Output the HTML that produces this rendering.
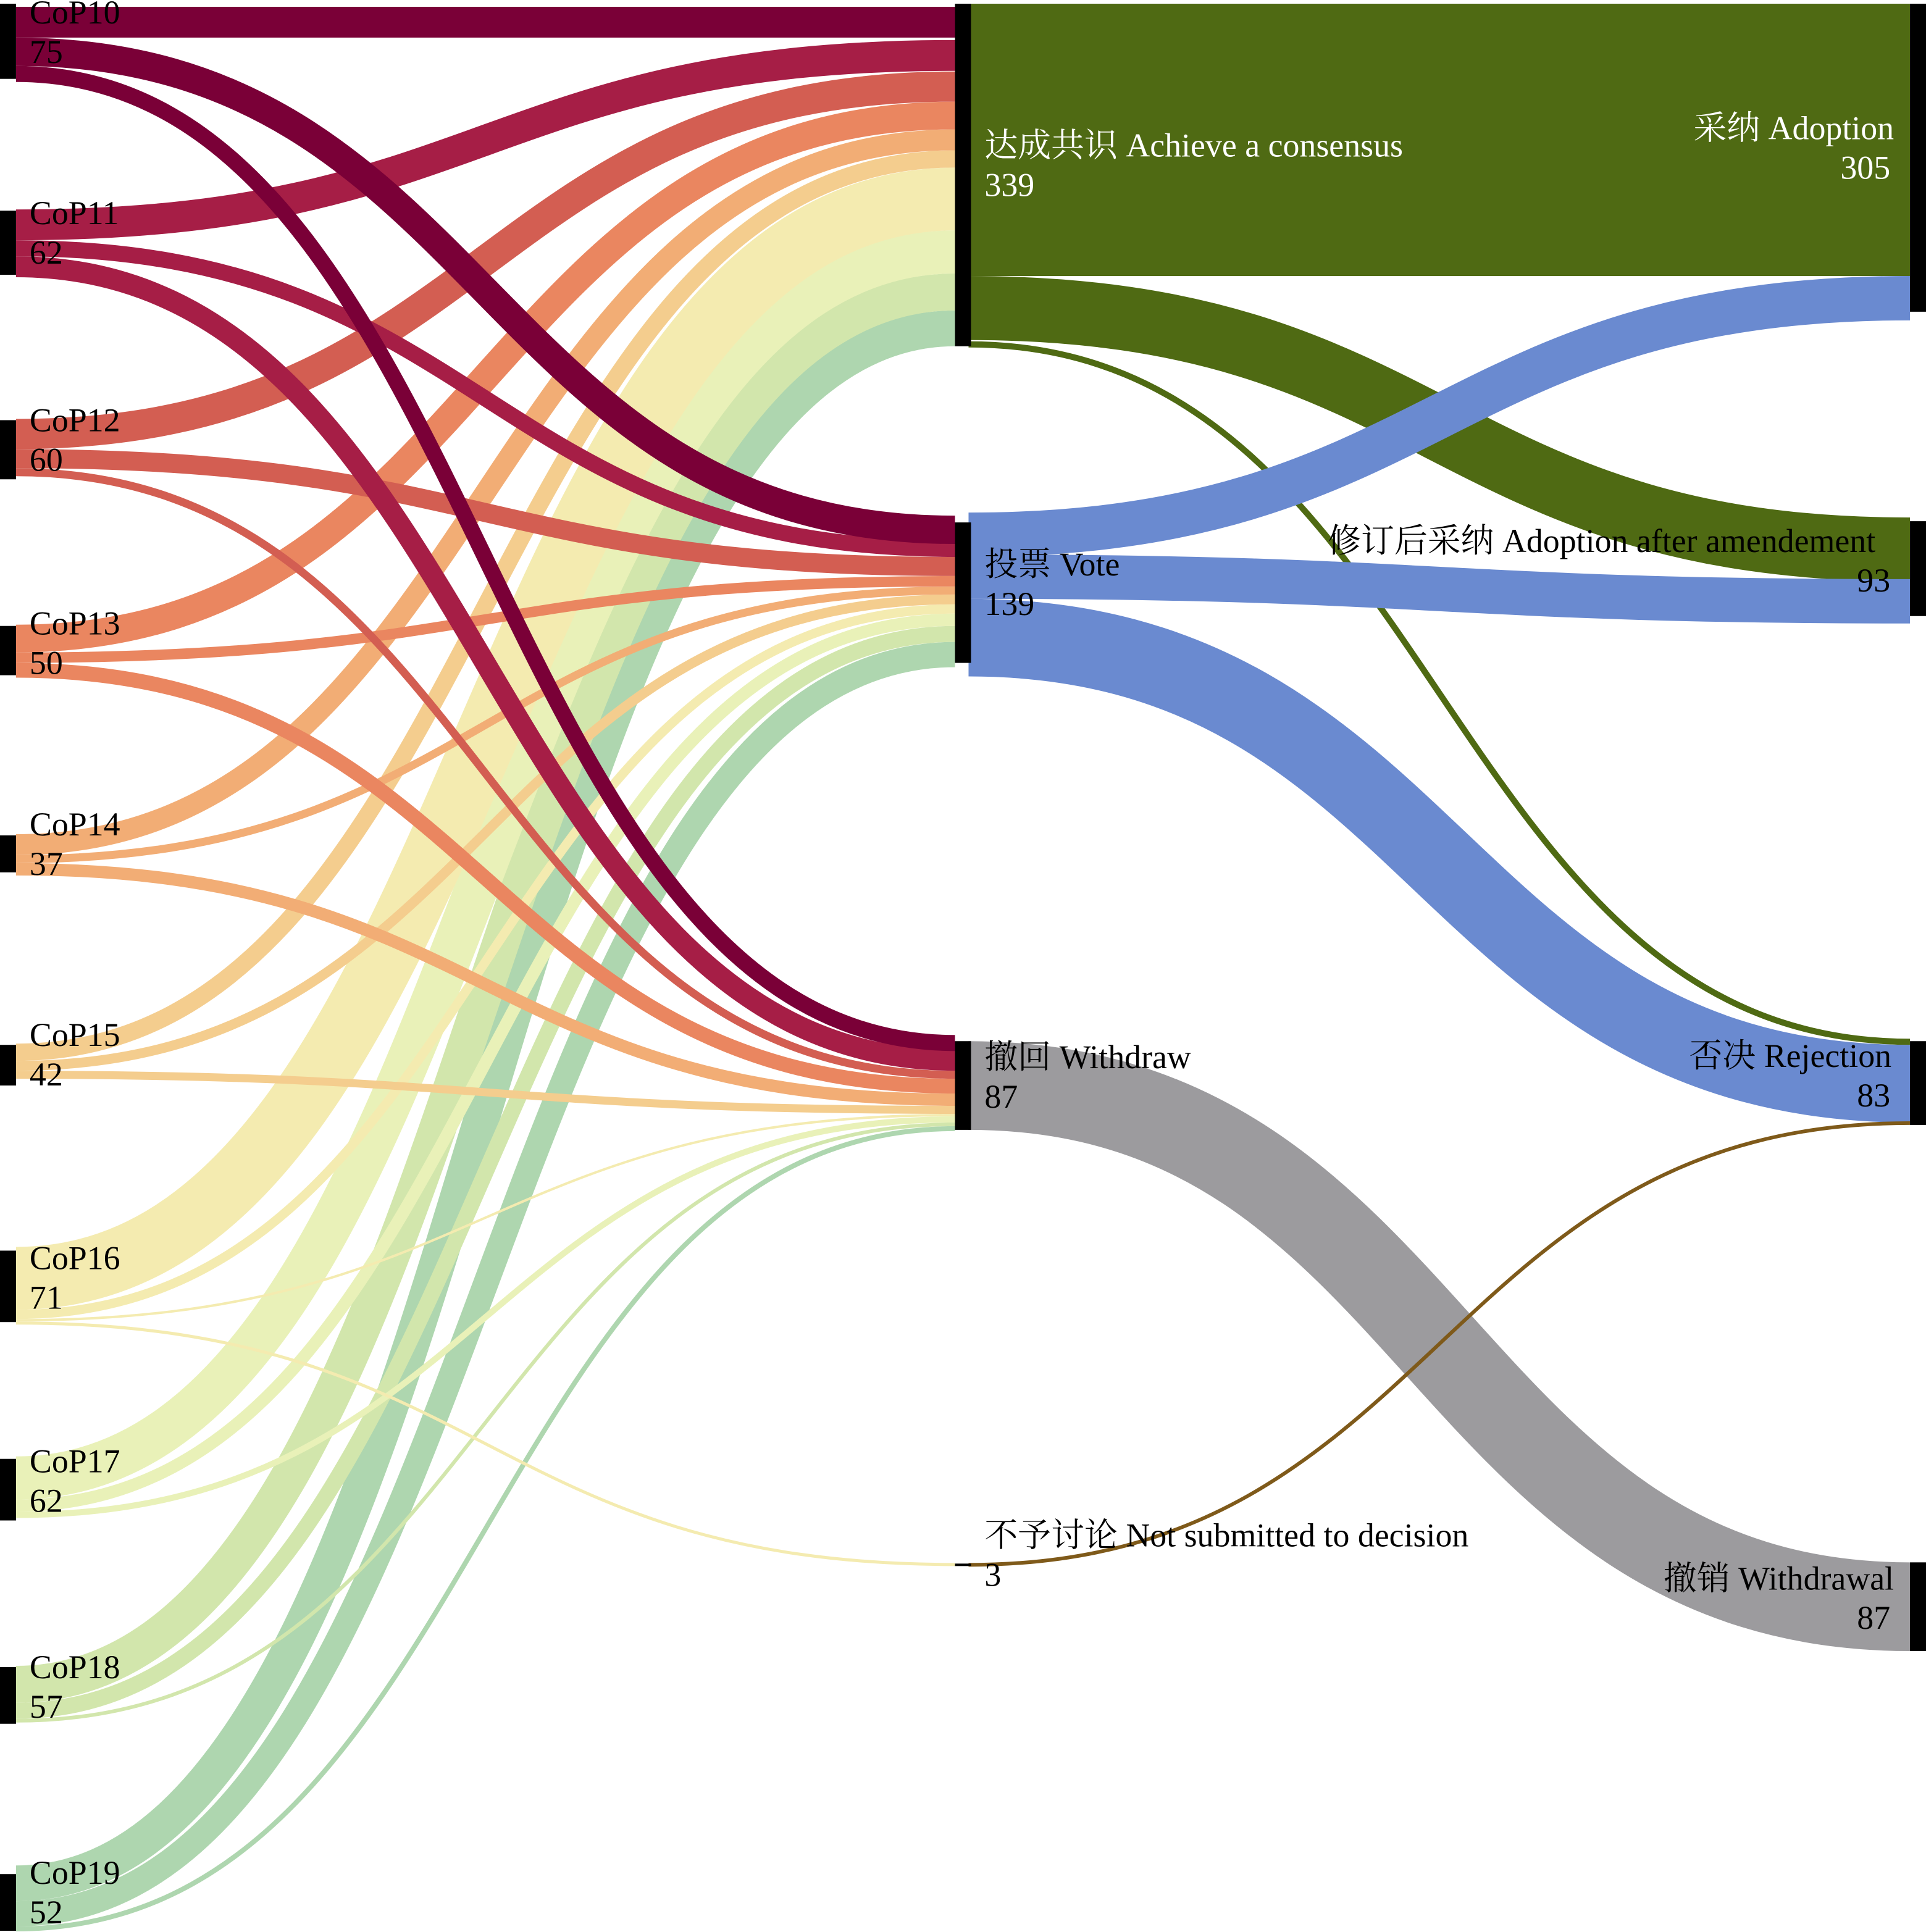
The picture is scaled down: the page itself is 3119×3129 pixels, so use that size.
<!DOCTYPE html>
<html><head><meta charset="utf-8"><style>
html,body{margin:0;padding:0;background:#fff;}
svg{display:block;}
text{font-family:"Liberation Serif","Noto Serif CJK SC","Noto Sans CJK SC",serif;font-size:27px;dominant-baseline:central;}
</style></head><body>
<svg id="s" width="3119" height="3129" viewBox="0 0 1563 1568" preserveAspectRatio="none" xmlns="http://www.w3.org/2000/svg">
<g id="flows" fill="none"></g>
<g fill="#000">
<rect x="0" y="3" width="13" height="61"/>
<rect x="0" y="171" width="13" height="52"/>
<rect x="0" y="341" width="13" height="48"/>
<rect x="0" y="508" width="13" height="40"/>
<rect x="0" y="678" width="13" height="30"/>
<rect x="0" y="848" width="13" height="33"/>
<rect x="0" y="1015" width="13" height="58"/>
<rect x="0" y="1184" width="13" height="50"/>
<rect x="0" y="1353" width="13" height="46"/>
<rect x="0" y="1521" width="13" height="46"/>
<rect x="775" y="3" width="13" height="278"/>
<rect x="775" y="424" width="13" height="114"/>
<rect x="775" y="845" width="13" height="72"/>
<rect x="775" y="1269" width="13" height="2"/>
<rect x="1550" y="3" width="13" height="250"/>
<rect x="1550" y="423" width="13" height="77"/>
<rect x="1550" y="845" width="13" height="68"/>
<rect x="1550" y="1268" width="13" height="72"/>
</g>
<g fill="#000">
<text x="24" y="10">CoP10</text><text x="24" y="42">75</text>
<text x="24" y="173">CoP11</text><text x="24" y="205">62</text>
<text x="24" y="341">CoP12</text><text x="24" y="373">60</text>
<text x="24" y="506">CoP13</text><text x="24" y="538">50</text>
<text x="24" y="669">CoP14</text><text x="24" y="701">37</text>
<text x="24" y="840">CoP15</text><text x="24" y="872">42</text>
<text x="24" y="1021">CoP16</text><text x="24" y="1053">71</text>
<text x="24" y="1186">CoP17</text><text x="24" y="1218">62</text>
<text x="24" y="1353">CoP18</text><text x="24" y="1385">57</text>
<text x="24" y="1520">CoP19</text><text x="24" y="1552">52</text>
<text x="799" y="118" fill="#fff">达成共识 Achieve a consensus</text><text x="799" y="150" fill="#fff">339</text>
<text x="799" y="458">投票 Vote</text><text x="799" y="490">139</text>
<text x="799" y="858">撤回 Withdraw</text><text x="799" y="890">87</text>
<text x="799" y="1246">不予讨论 Not submitted to decision</text><text x="799" y="1278">3</text>
<text x="1537" y="104" text-anchor="end" fill="#fff">采纳 Adoption</text><text x="1534" y="136" text-anchor="end" fill="#fff">305</text>
<text x="1522" y="439" text-anchor="end">修订后采纳 Adoption after amendement</text><text x="1534" y="471" text-anchor="end">93</text>
<text x="1535" y="857" text-anchor="end">否决 Rejection</text><text x="1534" y="889" text-anchor="end">83</text>
<text x="1537" y="1281" text-anchor="end">撤销 Withdrawal</text><text x="1534" y="1313" text-anchor="end">87</text>
</g>
</svg>
<script>
var g=document.getElementById('flows');
function f(x0,y0,x1,y1,w,c){
 var xm=(x0+x1)/2, a=y0+w/2, b=y1+w/2;
 var d='M'+x0+','+a+'C'+xm+','+a+' '+xm+','+b+' '+x1+','+b;
 var p=document.createElementNS('http://www.w3.org/2000/svg','path');
 p.setAttribute('d',d);p.setAttribute('stroke',c);p.setAttribute('stroke-width',w);p.setAttribute('fill','none');g.appendChild(p);
}
var cols=['#7a0037','#a61e46','#d35e52','#ea8660','#f2ad75','#f4cd8e','#f4ebb0','#e9f1b8','#d2e6ac','#aed6af'];
var tops=[5.5,170,340,507,677,847,1012,1182,1352,1514];
var C=[[5.5,25],[32.5,25],[58,24.5],[82.5,22.5],[105,17],[122,14],[136,51],[187,35],[222,30],[252,29]];
var V=[[418.5,23],[439,13],[452,15.5],[467.5,8.5],[476,6.5],[482.5,8],[490.5,7.5],[498,10],[508,13],[521,20.5]];
var W=[[840,13],[852,17],[869,6.5],[875.5,12],[887.5,10],[897.5,6.5],[904,2],[906,5],[911,3],[914,4]];
for(var i=9;i>=0;i--){
 var y=tops[i];
 f(13,y,775,C[i][0],C[i][1],cols[i]); y+=C[i][1];
 f(13,y,775,V[i][0],V[i][1],cols[i]); y+=V[i][1];
 f(13,y,775,W[i][0],W[i][1],cols[i]); y+=W[i][1];
 if(i==6){f(13,y,775,1268.5,2.5,cols[i]);}
}
f(786,3,1550,3,221,'#4f6a13');
f(786,224,1550,420,52,'#4f6a13');
f(786,277,1550,843,5,'#4f6a13');
f(786,416,1550,224,36,'#6a8ad0');
f(786,450,1550,470,36,'#6a8ad0');
f(786,486,1550,848,63,'#6a8ad0');
f(786,845,1550,1268,72,'#9c9b9e');
f(786,1268.5,1550,910,3,'#7f5a1a');
</script>
</body></html>
